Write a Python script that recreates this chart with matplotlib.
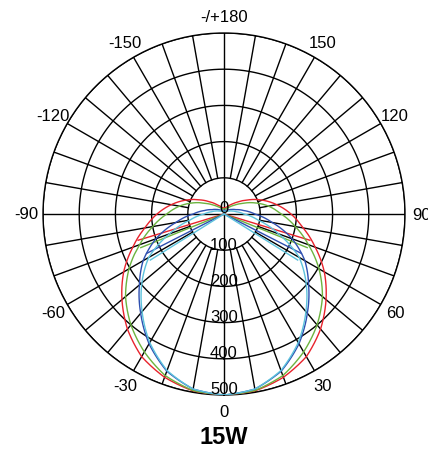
import numpy as np
import matplotlib
matplotlib.use("Agg")
import matplotlib.pyplot as plt
from matplotlib.path import Path
from matplotlib.patches import PathPatch

plt.rcParams['font.family'] = ['Liberation Sans', 'DejaVu Sans']

# ---- data (intensity values vs. gamma angle, degrees) ----
ANGLES = list(range(-180, 181, 10))

RED = [16, 17, 20, 26, 36, 52, 78, 112, 148, 185, 222, 268, 320, 368, 415, 455, 480, 496,
       500,
       496, 480, 455, 415, 368, 320, 268, 222, 185, 148, 112, 78, 52, 36, 26, 20, 17, 16]
GREEN = [13, 14, 16, 20, 26, 38, 58, 90, 125, 158, 200, 248, 303, 355, 400, 440, 475, 495,
         500,
         495, 475, 440, 400, 355, 303, 248, 200, 158, 125, 90, 58, 38, 26, 20, 16, 14, 13]
BLUE = [10, 10, 10, 12, 14, 18, 25, 35, 55, 85, 135, 200, 258, 305, 358, 414, 462, 491,
        500,
        491, 462, 414, 358, 305, 258, 200, 135, 85, 55, 35, 25, 18, 14, 12, 10, 10, 10]
CYAN = [8, 8, 8, 9, 10, 12, 16, 24, 35, 55, 95, 160, 240, 296, 352, 410, 460, 491,
        500,
        491, 460, 410, 352, 296, 240, 160, 95, 55, 35, 24, 16, 12, 10, 9, 8, 8, 8]

# radial "cut" segments (angle, value) drawn from the centre on both sides
CUT_ANGLES = [73, 68, 63, 58]
CUT_VALUES = [248, 248, 240, 240]

SERIES = [RED, GREEN, BLUE, CYAN]
COLORS = ['#e8232c', '#6cb33f', '#2e4fb0', '#5cc2dc']

RING_VALUES = [100, 200, 300, 400, 500]
RADIAL_LABELS = ['0', '100', '200', '300', '400', '500']
ANGLE_TICKS = [0, 30, 60, 90, 120, 150, 180, -150, -120, -90, -60, -30]
ANGLE_LABELS = ['0', '30', '60', '90', '120', '150', '-/+180', '-150', '-120', '-90', '-60', '-30']
TITLE = '15W'

# ---- figure ----
W, H = 428, 452
fig = plt.figure(figsize=(W / 100, H / 100), dpi=100)
cx, cy, R = 224, 215, 181
ax = fig.add_axes([(cx - R) / W, (H - cy - R) / H, 2 * R / W, 2 * R / H], projection='polar')
ax.set_theta_zero_location('S')
ax.set_theta_direction(1)
ax.set_ylim(0, 500)
ax.grid(False)
ax.set_xticks([])
ax.set_yticks([])
ax.spines['polar'].set_color('black')
ax.spines['polar'].set_linewidth(1.0)

# rings
full = np.deg2rad(np.arange(0, 361, 1))
for r in RING_VALUES:
    ax.plot(full, [r] * len(full), color='black', lw=1.0, zorder=1)
# radial lines
for a in range(0, 360, 10):
    t = np.deg2rad(a)
    r0 = 0 if a % 90 == 0 else RING_VALUES[0]
    ax.plot([t, t], [r0, 500], color='black', lw=1.0, zorder=1)

# curves (path interpolated in polar space so segments follow the polar grid)
th = np.deg2rad(ANGLES)
for vals, col, ca, cv in zip(SERIES, COLORS, CUT_ANGLES, CUT_VALUES):
    path = Path(np.column_stack([th, vals]), _interpolation_steps=24)
    ax.add_patch(PathPatch(path, fill=False, edgecolor=col, lw=1.0, zorder=3))
    for s in (-1, 1):
        t = np.deg2rad(s * ca)
        ax.plot([t, t], [0, cv], color=col, lw=1.0, zorder=3)

# radial labels
for i, lab in enumerate(RADIAL_LABELS):
    ax.annotate(lab, xy=(0, i * 100), xytext=(0, 6), textcoords='offset pixels',
                ha='center', va='center', fontsize=12, color='black', zorder=5)

# angle labels
for a, lab in zip(ANGLE_TICKS, ANGLE_LABELS):
    ax.text(np.deg2rad(a), 546, lab, ha='center', va='center', fontsize=12,
            color='black', clip_on=False)

fig.text(cx / W, 1 - 438 / H, TITLE, ha='center', va='center', fontsize=17,
         fontweight='bold', color='black')

fig.savefig('out.png', dpi=100)
